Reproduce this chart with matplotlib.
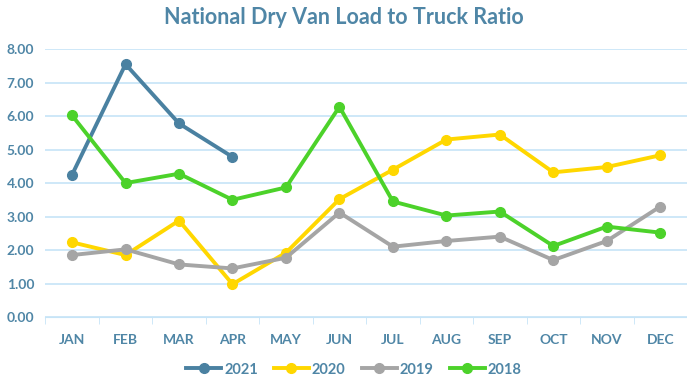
import numpy as np
import matplotlib.pyplot as plt

months = ['JAN', 'FEB', 'MAR', 'APR', 'MAY', 'JUN', 'JUL', 'AUG', 'SEP', 'OCT', 'NOV', 'DEC']
y2021 = [4.25, 7.55, 5.78, 4.78]
y2020 = [2.23, 1.85, 2.88, 0.98, 1.92, 3.52, 4.40, 5.30, 5.45, 4.32, 4.48, 4.83]
y2019 = [1.85, 2.02, 1.57, 1.45, 1.77, 3.12, 2.10, 2.27, 2.40, 1.70, 2.27, 3.30]
y2018 = [6.02, 4.00, 4.28, 3.50, 3.87, 6.28, 3.45, 3.03, 3.15, 2.12, 2.70, 2.52]

text_col = '#4F86A6'
plt.rcParams['font.family'] = ['Lato', 'DejaVu Sans']

fig = plt.figure(figsize=(6.87, 3.81), dpi=100)
ax = fig.add_axes([0.066, 0.168, 0.934, 0.703])

x = np.arange(len(months))
series = [(y2021, '2021', '#4A81A1'), (y2020, '2020', '#FFD700'),
          (y2019, '2019', '#A5A5A5'), (y2018, '2018', '#4CD22A')]
for vals, lab, col in series:
    ax.plot(x[:len(vals)], vals, color=col, lw=2.8, marker='o', ms=7, label=lab)

ax.set_xlim(-0.5, 11.5)
ax.set_ylim(0, 8)
ax.set_yticks(np.arange(0, 9, 1))
ax.set_yticklabels([f'{v:.2f}' for v in np.arange(0, 9, 1)])
ax.set_xticks(x)
ax.set_xticklabels(months)
ax.set_xticks(np.arange(-0.5, 12, 1), minor=True)
ax.tick_params(axis='x', which='major', length=0, pad=12)
ax.tick_params(axis='x', which='minor', length=5, color='#C6E4F7', direction='out')
ax.tick_params(axis='y', length=0, pad=8)
for lbl in ax.get_xticklabels() + ax.get_yticklabels():
    lbl.set_color(text_col)
    lbl.set_fontweight('bold')
    lbl.set_fontsize(10)
ax.grid(axis='y', color='#C6E4F7', lw=1.2)
ax.set_axisbelow(True)
for s in ['top', 'right', 'left']:
    ax.spines[s].set_visible(False)
ax.spines['bottom'].set_color('#C6E4F7')

fig.text(0.5, 0.955, 'National Dry Van Load to Truck Ratio', ha='center', va='center',
         fontsize=15.5, fontweight='bold', color=text_col)

leg = fig.legend(loc='center', bbox_to_anchor=(0.515, 0.03), ncol=4, frameon=False,
                 handlelength=2.4, columnspacing=1.1, handletextpad=0.2,
                 prop={'weight': 'bold', 'size': 10.5})
for t in leg.get_texts():
    t.set_color(text_col)

plt.savefig('out.png', dpi=100)
plt.close()
